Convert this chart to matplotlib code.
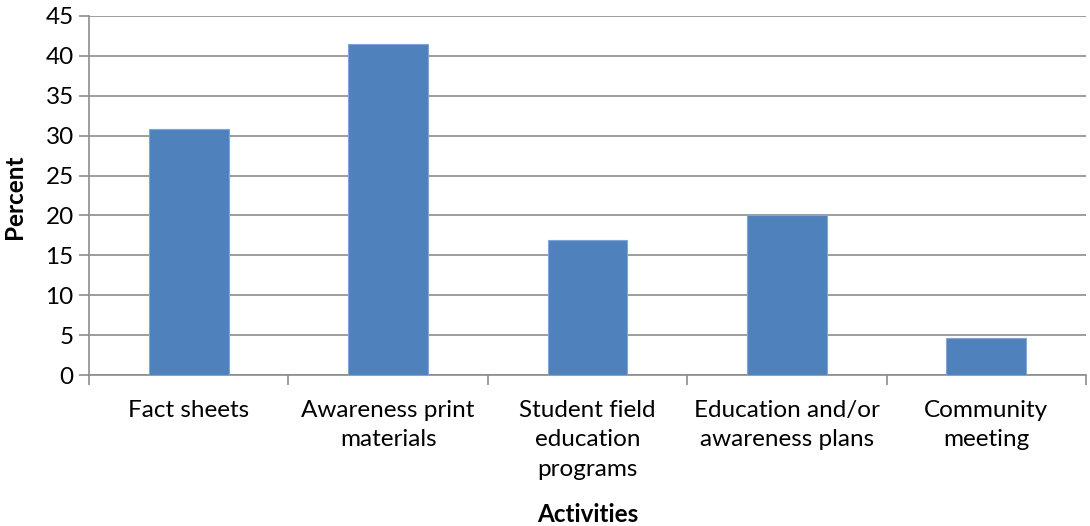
import matplotlib
matplotlib.use("Agg")
import matplotlib.pyplot as plt
import numpy as np

categories = ["Fact sheets", "Awareness print\nmaterials", "Student field\neducation\nprograms",
              "Education and/or\nawareness plans", "Community\nmeeting"]
values = [30.8, 41.5, 16.9, 20.0, 4.6]
yticks = [0, 5, 10, 15, 20, 25, 30, 35, 40, 45]

plt.rcParams['font.family'] = ['Lato', 'DejaVu Sans']

fig = plt.figure(figsize=(10.9, 5.26), dpi=100)
ax = fig.add_axes([89/1090, 1 - 375/526, (1086-89)/1090, (375-16)/526])

x = np.arange(len(categories))
ax.bar(x, values, width=0.4, color='#4F81BD', edgecolor='#7EA6D8', linewidth=0.8, zorder=3)

ax.set_xlim(-0.5, len(categories) - 0.5)
ax.set_ylim(0, 45)
ax.set_yticks(yticks)
ax.set_yticklabels([str(v) for v in yticks], fontsize=17.5)
ax.yaxis.grid(True, color='#8C8C8C', linewidth=1.2, zorder=0)
ax.set_axisbelow(True)

ax.set_xticks(np.arange(len(categories) + 1) - 0.5)
ax.set_xticklabels([])
ax.set_xticks(x, minor=True)
ax.set_xticklabels(categories, minor=True, fontsize=17.5, linespacing=1.52)
ax.tick_params(axis='x', which='minor', length=0, pad=17.7)
ax.tick_params(axis='x', which='major', length=7, color='#8C8C8C', width=1.2)
ax.tick_params(axis='y', length=7, color='#8C8C8C', width=1.2, pad=4)
for lab in ax.get_xticklabels(minor=True):
    lab.set_verticalalignment('top')

for s in ['top', 'right']:
    ax.spines[s].set_visible(False)
for s in ['left', 'bottom']:
    ax.spines[s].set_color('#8C8C8C')
    ax.spines[s].set_linewidth(1.2)

fig.text(14/1090, 1 - 197/526, "Percent", rotation=90, fontsize=17.5, fontweight='bold',
         ha='center', va='center')
fig.text(588/1090, 1 - 514/526, "Activities", fontsize=17.5, fontweight='bold',
         ha='center', va='center')

fig.savefig("out.png", dpi=100)
